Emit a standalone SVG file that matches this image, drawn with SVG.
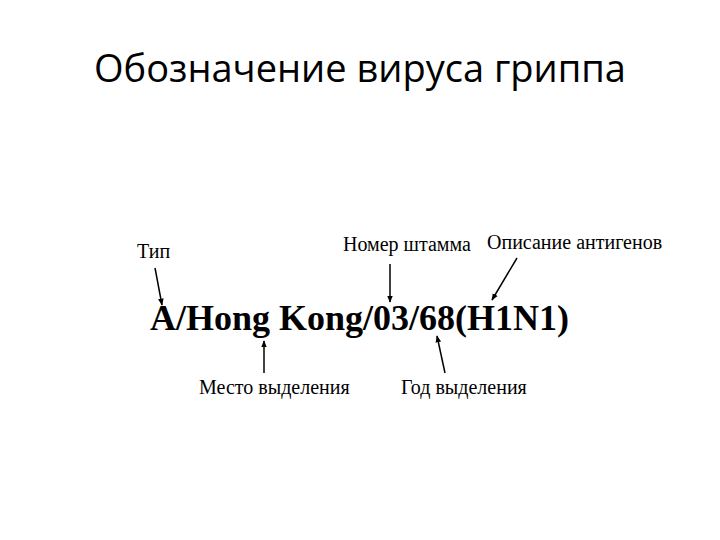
<svg xmlns="http://www.w3.org/2000/svg" width="720" height="540" viewBox="0 0 720 540">
<style>
.title{font-family:"Open Sans","Noto Sans",sans-serif;font-size:38px;fill:#000}
.main{font-family:"Liberation Serif","Times New Roman",serif;font-size:36px;font-weight:bold;fill:#000}
.lbl{font-family:"Liberation Serif","Times New Roman",serif;font-size:20px;fill:#000}
.arr{stroke:#000;stroke-width:1.5;fill:none;marker-end:url(#ah)}
</style>
<defs>
<marker id="ah" viewBox="0 0 10 10" refX="9" refY="5" markerWidth="7" markerHeight="7" markerUnits="userSpaceOnUse" orient="auto">
<path d="M0,1 L10,5 L0,9 Z" fill="#000"/>
</marker>
</defs>
<rect width="720" height="540" fill="#fff"/>
<text class="title" x="360" y="82" text-anchor="middle">Обозначение вируса гриппа</text>
<g id="designation"><text class="main" x="150" y="330">A/Hong Kong/03/68(H1N1)</text></g>
<g id="type"><text class="lbl" x="137" y="258">Тип</text></g>
<g id="strain"><text class="lbl" x="343" y="251">Номер штамма</text></g>
<g id="antigens"><text class="lbl" x="487" y="249">Описание антигенов</text></g>
<g id="place"><text class="lbl" x="199" y="394">Место выделения</text></g>
<g id="year"><text class="lbl" x="401" y="394">Год выделения</text></g>
<g id="connectors">
<line class="arr" x1="155" y1="268" x2="162" y2="305"/>
<line class="arr" x1="390" y1="264" x2="390" y2="302"/>
<line class="arr" x1="517" y1="258" x2="492" y2="300"/>
<line class="arr" x1="264" y1="373" x2="264" y2="341"/>
<line class="arr" x1="445" y1="373" x2="437" y2="336"/>
</g>
</svg>
